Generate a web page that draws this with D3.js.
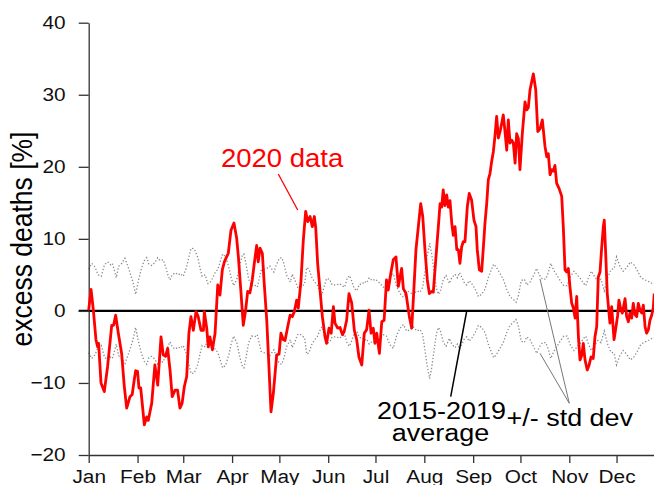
<!DOCTYPE html>
<html><head><meta charset="utf-8">
<script src="https://cdn.jsdelivr.net/npm/d3@7"></script>
<style>
html,body{margin:0;padding:0;background:#fff;}
svg{display:block;font-family:"Liberation Sans",Arial,sans-serif;}
</style></head>
<body><svg id="c" width="654" height="485"></svg>
<script>
// ---- data ----
const monthNames = ["Jan","Feb","Mar","Apr","May","Jun","Jul","Aug","Sep","Oct","Nov","Dec"];
const monthStartDays = [0,31,60,91,121,152,182,213,244,274,305,335];
const yTicks = [-20,-10,0,10,20,30,40];

// 2020 excess deaths [%] (day of year, value)
const redDays = [0,1.5,3,4.6,5.7,6.3,7.8,9.9,12,14.6,15.8,17.1,18.8,20.9,22.6,24.1,26.2,27.6,28.9,29.8,31,31.9,33,35.3,36.8,37.8,40,42,43.8,45.9,47.3,48.8,50.1,51.6,53,54.8,56.4,57.9,59.3,60.7,62.2,63.6,64.9,66.4,68.1,69.5,71.3,72.8,73.4,74.9,75.9,76.9,78.5,80.2,81.9,83.3,84.8,86.1,87.5,88.6,90.3,92.2,93.9,95,96.7,98.1,99.6,100.9,102.3,103.8,105.1,106.6,107.6,108.7,110.2,111.4,113,114,115.7,117.2,119.3,120.8,122,123.5,124.6,126.3,127.8,129.2,130.5,132,133,134.7,136.2,137.7,139,140.5,141.9,143.2,144.1,145.3,146.8,148.3,150,151,152.5,153.9,155.3,156.3,158,159.5,161,162.1,163.7,165.2,166.9,168.6,170.1,171.5,173.3,174.9,176.4,177.9,179.2,180.6,181.7,182.8,184.5,186,187.5,189,190.1,191.7,193.3,195,196.5,198.6,199.7,201.4,203.5,205,206,207.7,209.2,210.7,212,213.4,214.9,216.2,217.6,218.7,220.4,221.9,223,224,225,226,227.2,228.2,229.3,230.4,231.4,232.5,233.6,234.6,235.6,236.7,237.7,238.8,240.3,241.5,243,244.5,245.8,246.6,247.9,249.4,250.5,251.5,252.6,253.6,254.7,255.7,256.8,257.8,258.9,260,261.4,263.1,264.2,265.3,266.3,267.4,268.5,269.5,270.6,271.6,272.7,273.7,275.2,276.9,278,279,280.1,282.2,283.7,285,286.5,287.9,289.6,290.7,291.7,292.8,293.9,294.9,295.9,297,298.5,300.2,301.2,302.3,303.3,304.4,305.4,306.5,307.6,308.7,309.7,310.8,311.8,312.9,313.9,315,316.4,317.6,318.8,320.2,321.3,322.4,323.4,324.5,325.6,326.6,327.2,328.1,329.1,330.8,331.9,333.4,334.4,335.7,336.5,337.8,338.7,340.4,341.4,342.5,343.5,344.6,345.6,346.7,347.8,348.8,349.9,351,352,353.1,354.1,355.2,356.2,357.3,358.3,358.9];
const redVals = [0.1,3.0,0,-4.0,-5.0,-4.5,-10.0,-11.2,-7.7,-2.0,-2.0,-0.6,-3.1,-5.9,-10.5,-13.5,-11.9,-11.6,-9.6,-8.3,-8.4,-10.7,-10.7,-15.8,-14.7,-15.2,-12.8,-7.5,-10.3,-3.6,-6.1,-6.3,-5.2,-8.2,-11.9,-11.0,-11.0,-13.5,-12.8,-10.5,-9.1,-3.1,-0.8,-2.7,-0.1,-0.8,-2.7,-2.7,-0.1,-2.4,-5.0,-3.6,-5.4,-3.1,3.6,2.2,5.7,6.8,7.5,8.0,11.2,12.2,10.1,7.5,2.4,-2.0,0.1,2.7,2.5,4.3,6.6,9.1,6.8,8.7,8.0,3.8,-1.3,-5.9,-14.0,-11.4,-6.1,-6.0,-3.1,-4.0,-4.1,-2.2,-0.6,-0.8,-0.1,1.5,0.4,4.1,9.8,13.8,12.4,13.1,11.7,13.1,11.5,6.6,2.9,-0.8,-3.6,-4.5,-2.4,-3.1,0.6,-1.7,-2.4,-2.3,-3.3,-2.9,-1.3,2.4,1.1,-2.7,-4.0,-6.4,-7.5,-3.1,-2.6,0.1,-3.1,-2.4,-4.5,-3.1,-5.9,-1.5,-1.3,4.3,2.9,5.2,7.1,7.5,3.4,5.9,3.1,2.4,-0.8,-2.4,1.5,8.5,11.7,14.9,13.1,8.5,4.3,2.4,2.7,2.6,7.5,11.7,14.9,14.4,16.8,14.6,16.1,14.4,15.3,12.2,10.5,11.7,8.5,8.5,6.6,8.9,9.6,9.6,14.5,16.3,15.4,12.6,11.7,8.5,5.7,5.5,8.9,12.2,14.9,18.2,19.1,20.7,22.1,24.2,27.0,24.0,25.2,27.2,24.9,22.3,26.5,23.3,23.7,23.3,20.5,24.6,23.9,19.6,24.6,29.0,27.9,28.2,30.7,32.9,30.7,24.9,25.3,26.5,22.8,21.4,21.8,18.9,19.6,19.4,20.2,17.7,17.0,15.9,11.7,5.7,5.4,5.9,3.4,1.1,0.4,-1.0,2.0,-3.6,-6.8,-6.2,-4.5,-6.8,-8.2,-7.5,-6.4,-6.6,-3.6,-2.2,4.7,5.4,8.9,11.7,12.6,8.0,2.4,-1.7,0.6,-4.0,-2.6,-0.6,1.5,0.1,-0.3,1.7,-0.8,-1.5,-0.3,-1.0,1.05,-0.5,-0.8,1.05,0.1,-0.3,0.8,-2.2,-3.1,-2.6,-1.3,-0.6,0.4,2.4];

// 2015-2019 standard deviation [%] (plotted as +/-)
const stdDays = [0,2,4,6,8,10,12,14,15,16.5,17.5,19,21,23,25,27,28.3,29.8,31.5,33.6,35.3,36.8,38.2,40,42,43.8,45.3,47.3,49,50.5,51.6,53,55,57,58,60,62,63.6,65,67,69.3,70.6,72,74,75.5,77,78.5,80.2,82,83.3,85,87,89,90.5,92,94,96,97.5,98.5,100,101.5,103.4,105.3,107,109.4,111.2,113,115,117.5,119,121,122.5,124,125.5,127,128,129.2,131,132.5,134,135.5,137,138.3,139.8,141.5,143.4,145,146.5,148,149.6,151,152.8,154.5,156,157.5,159,160.8,162.5,164,165.5,167,168.5,170.1,171.8,173.5,175,176.5,178,180,182,184.9,187,189,191.2,193.3,195.4,197.6,199.7,201.8,203.9,206,208.2,210.3,212,213.4,214.9,216.4,217.6,219.1,220.6,222,223.4,225.1,226.8,228.9,230.4,232.5,234,235.3,236.7,238.4,239.9,241.5,243.7,245.8,247.3,249.4,251.5,253.6,255.7,257,258.9,261,263.1,265.3,267.4,269.5,271.2,272.7,274.5,276.5,278,280.1,282.2,284.3,286,288,290,291.7,293.2,295.2,297.3,299.5,301.5,303.6,305.8,308,310,312,314.2,315.5,317,319,321,323.2,325.1,327.2,329.3,331.4,333.5,335,337.1,339.2,341.4,343.8,346,348,350,352,354.1,356.2,358.3,362];
const stdVals = [5.8,6.6,6.1,5.0,4.8,6.4,6.8,6.4,6.6,5.5,4.6,6.2,6.6,7.3,6.1,4.8,3.8,2.3,4.2,6.0,7.0,7.4,6.5,6.3,6.7,7.4,7.0,7.1,6.0,4.8,4.3,5.0,5.3,5.0,5.2,4.8,6.0,7.5,8.7,8.6,7.4,6.0,4.8,5.0,3.8,3.9,4.5,5.3,5.8,6.7,7.9,7.5,6.0,4.5,3.5,4.4,6.5,7.7,7.9,6.3,4.4,3.5,3.6,3.3,5.6,5.8,5.9,6.2,5.4,6.3,7.3,7.4,6.5,5.0,4.4,4.0,5.1,4.2,3.3,3.2,3.5,3.7,6.0,5.8,4.7,4.0,3.6,2.8,2.2,3.5,4.5,4.4,3.6,3.6,3.6,3.8,3.5,3.3,4.5,4.9,4.1,3.1,2.8,3.7,3.7,4.1,3.9,4.6,4.2,4.4,3.8,3.3,3.5,4.7,5.2,3.4,2.4,1.9,2.8,2.6,2.2,2.8,2.6,3.3,5.5,7.7,9.4,8.0,5.6,3.2,2.3,2.9,4.4,4.9,3.8,4.6,5.1,4.6,5.3,4.7,3.9,3.6,4.2,3.6,2.8,2.0,2.3,3.0,4.6,5.8,6.5,6.0,5.2,4.4,3.0,2.0,1.6,1.2,2.1,4.2,4.4,3.6,4.0,4.9,5.9,5.0,4.4,4.4,5.3,6.6,5.6,4.9,4.1,3.5,3.5,4.8,5.5,5.0,4.5,3.8,3.5,4.5,5.5,4.8,4.1,4.4,2.8,4.6,5.7,5.9,7.5,6.2,5.5,6.0,6.8,6.4,5.7,4.8,4.4,4.2,4.0,3.7,3.5];

// ---- drawing ----
const svg = d3.select("#c");
const x = d3.scaleLinear().domain([0, 366]).range([88.7, 665.4]);
const y = d3.scaleLinear().domain([-20, 40]).range([455, 22.7]);
const axisColor = "#333";

const redData = redDays.map((d, i) => [d, redVals[i]]);
const upData = stdDays.map((d, i) => [d, stdVals[i]]);
const loData = stdDays.map((d, i) => [d, -stdVals[i]]);
const line = d3.line().x(d => x(d[0])).y(d => y(d[1]));

// std dev dotted lines
[upData, loData].forEach(dat => {
  svg.append("path").datum(dat).attr("d", line)
    .attr("fill", "none").attr("stroke", "#8a8a8a")
    .attr("stroke-width", 1.3).attr("stroke-dasharray", "1.3,2");
});

// zero (average) line
svg.append("line").attr("x1", 78.7).attr("x2", 654).attr("y1", y(0)).attr("y2", y(0))
  .attr("stroke", "#000").attr("stroke-width", 2.4);

// y axis
const gy = svg.append("g").attr("transform", `translate(${x(0)},0)`)
  .call(d3.axisLeft(y).tickValues(yTicks).tickSize(10).tickSizeOuter(0).tickPadding(13));
gy.select(".domain").attr("stroke", axisColor).attr("stroke-width", 1.3);
gy.selectAll(".tick line").attr("stroke", axisColor).attr("stroke-width", 1.3);
gy.selectAll(".tick text").attr("x", null)
  .attr("transform", "translate(-23,0) scale(1.12,1)")
  .attr("font-size", "18.6px").attr("font-family", "Liberation Sans, Arial, sans-serif").attr("fill", "#111");

// x axis
const gx = svg.append("g").attr("transform", `translate(0,${y(-20)})`)
  .call(d3.axisBottom(x).tickValues(monthStartDays).tickFormat((d, i) => monthNames[i])
    .tickSize(8).tickSizeOuter(0).tickPadding(7));
gx.select(".domain").attr("stroke", axisColor).attr("stroke-width", 1.3);
gx.selectAll(".tick line").attr("stroke", axisColor).attr("stroke-width", 1.3);
gx.selectAll(".tick text").attr("y", null)
  .attr("transform", "translate(0,15) scale(1.12,1)")
  .attr("font-size", "18.6px").attr("font-family", "Liberation Sans, Arial, sans-serif").attr("fill", "#111");

// 2020 data line
svg.append("path").datum(redData).attr("d", line)
  .attr("fill", "none").attr("stroke", "#ff0000").attr("stroke-width", 2.8)
  .attr("stroke-linejoin", "round");

// y label
svg.append("text")
  .attr("transform", "translate(32,239) scale(1.1,1) rotate(-90)")
  .attr("text-anchor", "middle").attr("font-size", "26.5px").attr("fill", "#000")
  .text("excess deaths [%]");

// annotations
function label(txt, tx, ty, anchor, color, size) {
  svg.append("text").attr("transform", `translate(${tx},${ty}) scale(1.1,1)`)
    .attr("text-anchor", anchor).attr("font-size", size).attr("fill", color).text(txt);
}
label("2020 data", 221, 166.5, "start", "#ff0000", "25px");
label("2015-2019", 441.5, 418.7, "middle", "#000", "24.5px");
label("average", 440.5, 440.5, "middle", "#000", "24.5px");
label("+/- std dev", 506.5, 425.7, "start", "#000", "24.5px");

svg.append("line").attr("x1", 278.3).attr("y1", 174).attr("x2", 297.7).attr("y2", 210)
  .attr("stroke", "#ff0000").attr("stroke-width", 1.3);
svg.append("line").attr("x1", 466.7).attr("y1", 311).attr("x2", 450.7).attr("y2", 396.7)
  .attr("stroke", "#000").attr("stroke-width", 1.5);
svg.append("line").attr("x1", 540).attr("y1", 279).attr("x2", 569.3).attr("y2", 403.3)
  .attr("stroke", "#777").attr("stroke-width", 1);
svg.append("line").attr("x1", 540).attr("y1", 353.3).attr("x2", 569.3).attr("y2", 403.3)
  .attr("stroke", "#777").attr("stroke-width", 1);
</script></body></html>
